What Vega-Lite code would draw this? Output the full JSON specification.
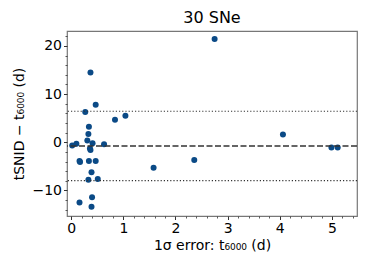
{
  "$schema": "https://vega.github.io/schema/vega-lite/v6.json",
  "width": 290,
  "height": 185,
  "autosize": {"type": "none"},
  "padding": {"left": 67, "top": 31, "right": 17, "bottom": 51},
  "background": "white",
  "title": {"text": "30 SNe", "font": "DejaVu Sans", "fontSize": 16, "fontWeight": "normal", "color": "black", "offset": 5},
  "config": {
    "view": {"stroke": "#777", "strokeWidth": 1.2},
    "font": "DejaVu Sans",
    "axis": {"grid": false, "domain": false, "tickColor": "#333", "labelColor": "black", "titleColor": "black", "labelFont": "DejaVu Sans", "titleFont": "DejaVu Sans", "titleFontWeight": "normal"}
  },
  "resolve": {"axis": {"x": "independent", "y": "independent"}},
  "datasets": {
    "pts": [
      {"err": 0.02, "diff": -0.69},
      {"err": 0.10, "diff": -0.28},
      {"err": 0.16, "diff": -3.9},
      {"err": 0.17, "diff": -4.1},
      {"err": 0.16, "diff": -12.5},
      {"err": 0.27, "diff": 6.3},
      {"err": 0.31, "diff": 0.35},
      {"err": 0.33, "diff": 1.7},
      {"err": 0.34, "diff": 3.2},
      {"err": 0.34, "diff": -3.9},
      {"err": 0.33, "diff": -7.75},
      {"err": 0.36, "diff": -1.3},
      {"err": 0.37, "diff": -1.6},
      {"err": 0.37, "diff": 14.5},
      {"err": 0.39, "diff": -6.2},
      {"err": 0.40, "diff": -11.4},
      {"err": 0.39, "diff": -13.4},
      {"err": 0.41, "diff": -0.2},
      {"err": 0.47, "diff": 7.8},
      {"err": 0.47, "diff": -3.9},
      {"err": 0.51, "diff": -7.6},
      {"err": 0.63, "diff": -0.4},
      {"err": 0.84, "diff": 4.7},
      {"err": 1.04, "diff": 5.5},
      {"err": 1.58, "diff": -5.3},
      {"err": 2.36, "diff": -3.7},
      {"err": 2.75, "diff": 21.45},
      {"err": 4.06, "diff": 1.6},
      {"err": 4.99, "diff": -1.1},
      {"err": 5.11, "diff": -1.1}
    ],
    "mean": [{"level": -0.76}],
    "bands": [{"level": 6.44}, {"level": -7.96}]
  },
  "layer": [
    {
      "data": {"name": "pts"},
      "mark": {"type": "point", "filled": true, "opacity": 1, "size": 36, "color": "#0b4a86"},
      "encoding": {
        "x": {"field": "err", "type": "quantitative", "scale": {"domain": [-0.08, 5.48], "nice": false, "zero": false},
              "axis": {"orient": "bottom", "values": [0, 1, 2, 3, 4, 5], "format": "d", "labelFontSize": 14, "tickSize": 3.5, "tickWidth": 1, "labelPadding": 2,
                       "title": "1σ error: t₆₀₀₀ (d)", "titleFontSize": 14, "titlePadding": 3}},
        "y": {"field": "diff", "type": "quantitative", "scale": {"domain": [-15.3, 23.1], "nice": false, "zero": false},
              "axis": {"orient": "left", "values": [-10, 0, 10, 20], "labelFontSize": 14, "tickSize": 3.5, "tickWidth": 1, "labelPadding": 2,
                       "title": "tSNID − t₆₀₀₀ (d)", "titleFontSize": 14, "titlePadding": 5}}
      }
    },
    {
      "data": {"name": "bands"},
      "mark": {"type": "rule", "color": "#333", "strokeWidth": 1.2, "strokeDash": [1.2, 2]},
      "encoding": {
        "y": {"field": "level", "type": "quantitative",
              "axis": {"orient": "left", "values": [-14, -12, -8, -6, -4, -2, 2, 4, 6, 8, 12, 14, 16, 18, 22], "labels": false, "tickSize": 2, "tickWidth": 0.8, "title": null}}
      }
    },
    {
      "data": {"name": "mean"},
      "mark": {"type": "rule", "color": "#333", "strokeWidth": 1.5, "strokeDash": [6, 2.5]},
      "encoding": {
        "y": {"field": "level", "type": "quantitative", "axis": null}
      }
    },
    {
      "data": {"name": "pts"},
      "mark": {"type": "point", "opacity": 0},
      "encoding": {
        "x": {"field": "err", "type": "quantitative",
              "axis": {"orient": "bottom", "values": [0.2, 0.4, 0.6, 0.8, 1.2, 1.4, 1.6, 1.8, 2.2, 2.4, 2.6, 2.8, 3.2, 3.4, 3.6, 3.8, 4.2, 4.4, 4.6, 4.8, 5.2, 5.4], "labels": false, "tickSize": 2, "tickWidth": 0.8, "title": null}},
        "y": {"field": "diff", "type": "quantitative", "axis": null}
      }
    }
  ]
}
